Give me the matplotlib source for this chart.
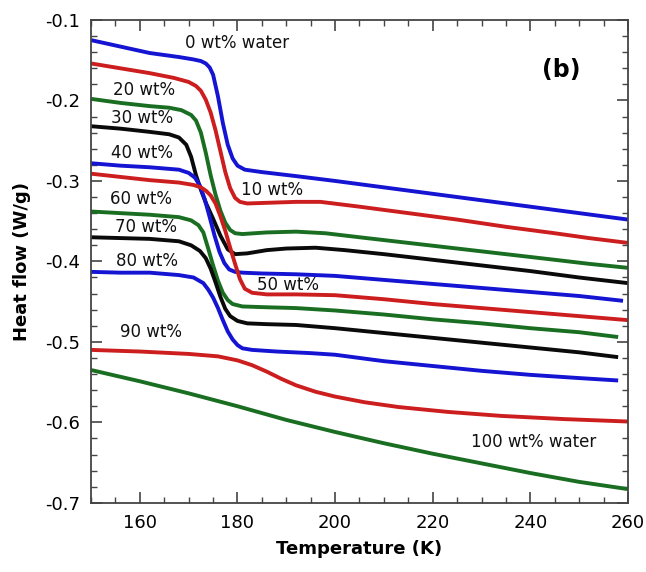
import matplotlib
matplotlib.use("Agg")
import matplotlib.pyplot as plt
from matplotlib.ticker import MultipleLocator

# DSC heat flow curves
T0 = [150, 156, 162, 168, 171, 172.5, 173.5, 174.3, 175, 176, 177, 178, 179, 180, 181.5, 185, 192, 200, 210, 220, 230, 240, 250, 260]
H0 = [-0.125, -0.133, -0.141, -0.146, -0.149, -0.151, -0.154, -0.159, -0.168, -0.195, -0.228, -0.255, -0.272, -0.281, -0.286, -0.289, -0.294, -0.300, -0.308, -0.316, -0.324, -0.332, -0.340, -0.348]

T10 = [150, 156, 162, 167, 170, 171.5, 172.5, 173.5, 174.5, 175.5, 176.5, 177.5, 178.5, 179.5, 180.5, 182, 187, 192, 197, 205, 215, 225, 235, 245, 252, 260]
H10 = [-0.154, -0.160, -0.166, -0.172, -0.177, -0.182, -0.188, -0.199, -0.215, -0.237, -0.263, -0.289, -0.309, -0.321, -0.326, -0.328, -0.327, -0.326, -0.326, -0.332, -0.340, -0.348, -0.357, -0.365, -0.371, -0.377]

T20 = [150, 156, 162, 166, 168.5, 170.5, 171.5, 172.5, 173.5, 174.5, 175.5, 176.5, 177.5, 178.5, 179.5, 181, 186, 192, 198, 205, 215, 225, 235, 245, 252, 260]
H20 = [-0.198, -0.203, -0.207, -0.209, -0.212, -0.218, -0.225, -0.240, -0.265, -0.293, -0.317, -0.337, -0.352, -0.361, -0.365, -0.366, -0.364, -0.363, -0.365, -0.370, -0.377, -0.384, -0.391, -0.398, -0.403, -0.408]

T30 = [150, 156, 162, 166, 168, 169.5, 170.5, 171.5, 172.5, 173.5, 175, 176.5, 178, 179.5, 182, 186, 190, 196, 202, 210, 220, 230, 240, 250, 260]
H30 = [-0.232, -0.235, -0.239, -0.242, -0.246, -0.255, -0.270, -0.293, -0.311, -0.327, -0.347, -0.368, -0.385, -0.391, -0.390, -0.386, -0.384, -0.383, -0.386, -0.391, -0.398, -0.405, -0.412, -0.420, -0.427]

T40 = [150, 156, 162, 168, 170, 171.3, 172.3, 173.3, 174.3, 175.3, 176.3, 177.3, 178.3, 179.5, 181, 185, 192, 200, 210, 220, 230, 240, 250, 259]
H40 = [-0.278, -0.281, -0.283, -0.286, -0.290, -0.296, -0.306, -0.323, -0.345, -0.368, -0.388, -0.402, -0.410, -0.413, -0.414, -0.415, -0.416, -0.418, -0.423, -0.428, -0.433, -0.438, -0.443, -0.449]

T50 = [150, 156, 162, 168, 171, 172.5, 173.5, 174.5, 175.5, 176.5, 177.5, 178.5, 179.5, 180.5, 181.5, 183, 186, 192, 200, 210, 220, 230, 240, 250, 260]
H50 = [-0.291, -0.295, -0.299, -0.302, -0.305, -0.308, -0.312, -0.318, -0.328, -0.344, -0.362, -0.383, -0.403, -0.422, -0.434, -0.439, -0.441, -0.441, -0.442, -0.447, -0.453, -0.458, -0.463, -0.468, -0.473]

T60 = [150, 156, 162, 168, 170.5, 172, 173, 174, 175, 176, 177, 178, 179, 181, 186, 192, 200, 210, 220, 230, 240, 250, 258]
H60 = [-0.338, -0.340, -0.342, -0.345, -0.349, -0.355, -0.364, -0.384, -0.405, -0.424, -0.439, -0.448, -0.453, -0.456, -0.457, -0.458, -0.461, -0.466, -0.472, -0.477, -0.483, -0.488, -0.494]

T70 = [150, 156, 162, 168, 170.5, 172.3, 173.5, 174.5, 175.5, 176.5, 177.5, 178.5, 180, 182, 186, 192, 200, 210, 220, 230, 240, 250, 258]
H70 = [-0.370, -0.371, -0.372, -0.375, -0.380, -0.387, -0.396, -0.409, -0.426, -0.444, -0.459, -0.468, -0.474, -0.477, -0.478, -0.479, -0.483, -0.489, -0.495, -0.501, -0.507, -0.513, -0.519]

T80 = [150, 156, 162, 168, 171, 173, 174, 175, 176, 177, 178, 179, 180, 181, 183, 188, 195, 200, 210, 220, 230, 240, 250, 258]
H80 = [-0.413, -0.414, -0.414, -0.417, -0.420, -0.427, -0.435, -0.445, -0.458, -0.473, -0.487, -0.497, -0.504, -0.508, -0.510, -0.512, -0.514, -0.516, -0.524, -0.530, -0.536, -0.541, -0.545, -0.548]

T90 = [150, 160, 170, 176, 180, 183, 186, 189, 192, 196, 200, 206, 213, 223, 234, 247, 260]
H90 = [-0.510, -0.512, -0.515, -0.518, -0.523, -0.529, -0.537, -0.546, -0.554, -0.562, -0.568, -0.575, -0.581, -0.587, -0.592, -0.596, -0.599]

T100 = [150, 160, 170, 180, 190, 200, 210, 220, 230, 240, 250, 260]
H100 = [-0.535, -0.549, -0.564, -0.580, -0.597, -0.612, -0.626, -0.639, -0.651, -0.663, -0.674, -0.683]

BLUE = '#1414d2'
RED = '#cc1e1e'
GREEN = '#1a6e22'
BLACK = '#0a0a0a'

curves = [
    (T0, H0, BLUE), (T10, H10, RED), (T20, H20, GREEN), (T30, H30, BLACK),
    (T40, H40, BLUE), (T50, H50, RED), (T60, H60, GREEN), (T70, H70, BLACK),
    (T80, H80, BLUE), (T90, H90, RED), (T100, H100, GREEN),
]

# label text and where it sits (T, heat flow)
labels = ['0 wt% water', '10 wt%', '20 wt%', '30 wt%', '40 wt%', '50 wt%',
          '60 wt%', '70 wt%', '80 wt%', '90 wt%', '100 wt% water']
label_T = [179.9, 187.1, 160.9, 160.5, 160.5, 190.4, 160.3, 161.2, 161.5, 162.3, 240.6]
label_H = [-0.129, -0.311, -0.187, -0.222, -0.265, -0.429, -0.322, -0.357, -0.400, -0.488, -0.625]

fig = plt.figure(figsize=(6.46, 5.72), dpi=100)
ax = fig.add_axes([0.141, 0.121, 0.831, 0.844])

for t, h, c in curves:
    ax.plot(t, h, color=c, lw=2.8, solid_capstyle='butt', solid_joinstyle='round')

for txt, tx, hy in zip(labels, label_T, label_H):
    ax.text(tx, hy, txt, fontsize=12, ha='center', va='center', color='#111111')

ax.text(246.3, -0.162, '(b)', fontsize=17, fontweight='bold', ha='center', va='center')

ax.set_xlim(150, 260)
ax.set_ylim(-0.7, -0.1)
ax.xaxis.set_major_locator(MultipleLocator(20))
ax.xaxis.set_minor_locator(MultipleLocator(5))
ax.yaxis.set_minor_locator(MultipleLocator(0.02))
ax.set_yticks([-0.7, -0.6, -0.5, -0.4, -0.3, -0.2, -0.1])
ax.set_yticklabels(['-0.7', '-0.6', '-0.5', '-0.4', '-0.3', '-0.2', '-0.1'])
ax.tick_params(which='both', direction='in', top=True, right=True, color='#444444', labelsize=13)
ax.tick_params(which='major', length=8, width=1.2, pad=8)
ax.tick_params(which='minor', length=4, width=1.0)
for sp in ax.spines.values():
    sp.set_color('#444444')
    sp.set_linewidth(1.3)

ax.set_xlabel('Temperature (K)', fontsize=13, fontweight='bold', labelpad=6)
ax.set_ylabel('Heat flow (W/g)', fontsize=13, fontweight='bold', labelpad=10)

fig.savefig('out.png', dpi=100)
